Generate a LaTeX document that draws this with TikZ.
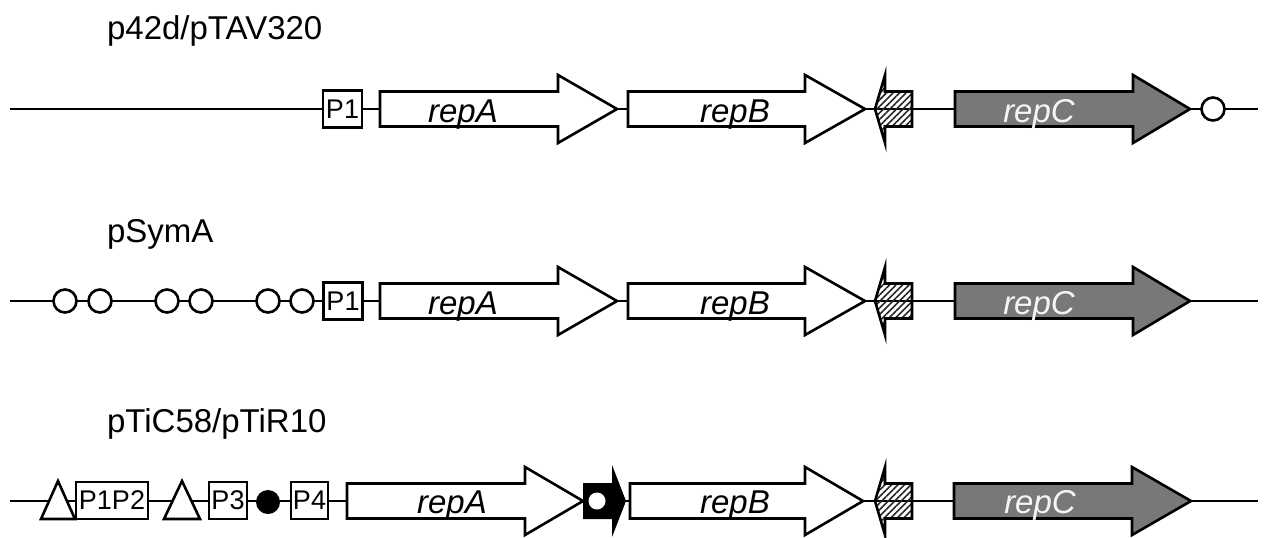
\documentclass[tikz,border=0pt]{standalone}
\usepackage{fontspec}
\setmainfont{Liberation Sans}
\usetikzlibrary{patterns.meta}

\definecolor{repgray}{RGB}{120,120,120}

% gene arrow: start x, head x, tip x, row y, fill
\newcommand{\gene}[5]{%
  \draw[genebody,fill=#5] (#1,#4-17.5) -- (#2,#4-17.5) -- (#2,#4-34) -- (#3,#4)
     -- (#2,#4+34) -- (#2,#4+17.5) -- (#1,#4+17.5) -- cycle;}
% small hatched arrow pointing left: tip x, row y
\newcommand{\hatcharrow}[2]{%
  \draw[genebody,pattern={Lines[angle=45,distance=2.3pt,line width=0.8pt]},pattern color=black!85]
     (#1,#2) -- (#1+10,#2-34) -- (#1+10,#2-17.5) -- (#1+37,#2-17.5)
     -- (#1+37,#2+17.5) -- (#1+10,#2+17.5) -- (#1+10,#2+34) -- cycle;}

\begin{document}
\begin{tikzpicture}[x=0.5pt,y=-0.5pt,
    backbone/.style={line width=1.3pt},
    genebody/.style={line width=1.3pt,line join=miter},
    title/.style={anchor=base west,font=\fontsize{16.5}{19}\selectfont},
    genetext/.style={anchor=base,font=\fontsize{16.5}{19}\selectfont\itshape},
    promoter/.style={draw,line width=1.3pt,fill=white,inner sep=0pt,
        minimum height=18.5pt,font=\fontsize{13.5}{15}\selectfont},
    site/.style={circle,draw,line width=1.3pt,fill=white,inner sep=0pt,minimum size=11.5pt},
    iteron/.style={line width=1.3pt,fill=white,line join=miter}]
\useasboundingbox (0,0) rectangle (1267,537);

% p42d/pTAV320
\node[title] (a-title) at (100,39) {p42d/pTAV320};
\coordinate (a-start) at (10,109);
\coordinate (a-end) at (1258,109);
\draw[backbone] (a-start) -- (a-end);
\node[promoter,minimum width=19.5pt] (a-P1) at (342.5,109) {P1};
\gene{380}{558}{617}{109}{white}
\node[genetext] (a-repA) at (463,122) {repA};
\gene{628}{805}{865}{109}{white}
\node[genetext] (a-repB) at (735,122) {repB};
\hatcharrow{875}{109}
\gene{955}{1133}{1190}{109}{repgray}
\node[genetext,text=white!92!gray] (a-repC) at (1039,122) {repC};
\node[site] (a-ori) at (1213,109) {};

% pSymA
\node[title] (b-title) at (100,242) {pSymA};
\coordinate (b-start) at (10,301);
\coordinate (b-end) at (1258,301);
\draw[backbone] (b-start) -- (b-end);
\foreach \x [count=\i] in {65,100,167,201,268,302}
  \node[site] (b-site\i) at (\x,301) {};
\node[promoter,minimum width=19.5pt] (b-P1) at (343,301) {P1};
\gene{380}{558}{617}{301}{white}
\node[genetext] (b-repA) at (463,314) {repA};
\gene{628}{805}{865}{301}{white}
\node[genetext] (b-repB) at (735,314) {repB};
\hatcharrow{875}{301}
\gene{955}{1133}{1190}{301}{repgray}
\node[genetext,text=white!92!gray] (b-repC) at (1039,314) {repC};

% pTiC58/pTiR10
\node[title] (c-title) at (100,432) {pTiC58/pTiR10};
\coordinate (c-start) at (10,501);
\coordinate (c-end) at (1258,501);
\draw[backbone] (c-start) -- (c-end);
\node[promoter,minimum width=36pt] (c-P1P2) at (112,500.5) {P1P2};
\draw[iteron] (41,519) -- (58,481) -- (75,519) -- cycle;
\draw[iteron] (164,519) -- (182,481) -- (200,519) -- cycle;
\node[promoter,minimum width=19pt] (c-P3) at (228,500.5) {P3};
\node[circle,fill=black,inner sep=0pt,minimum size=12pt] (c-dot) at (268,502) {};
\node[promoter,minimum width=18.5pt] (c-P4) at (309.5,500.5) {P4};
\gene{347}{525}{583}{501}{white}
\node[genetext] (c-repA) at (452,513) {repA};
\fill[black] (583,483) -- (612,483) -- (612,465) -- (626,501) -- (612,537)
   -- (612,519) -- (583,519) -- cycle;
\node[circle,fill=white,inner sep=0pt,minimum size=8.5pt] (c-ori) at (597,501) {};
\gene{630}{805}{863}{501}{white}
\node[genetext] (c-repB) at (735,513) {repB};
\hatcharrow{875}{501}
\gene{954}{1132}{1191}{501}{repgray}
\node[genetext,text=white!92!gray] (c-repC) at (1040,513) {repC};
\end{tikzpicture}
\end{document}
